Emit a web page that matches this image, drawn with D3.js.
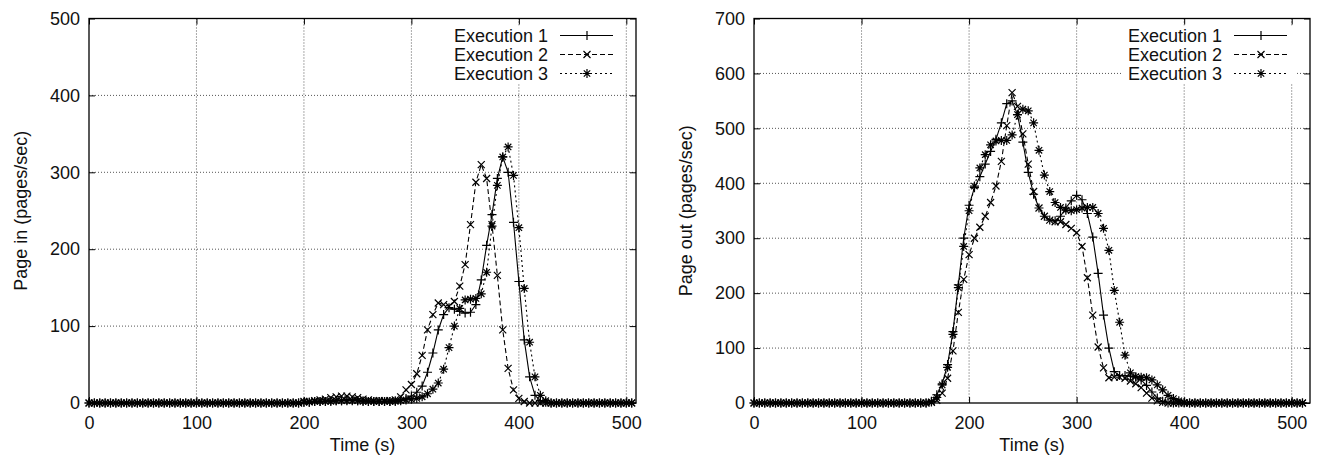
<!DOCTYPE html>
<html>
<head>
<meta charset="utf-8">
<script src="https://cdn.jsdelivr.net/npm/d3@7"></script>
<style>
body { margin: 0; background: white; }
svg { display: block; font-family: "Liberation Sans", Arial, Helvetica, sans-serif; }
</style>
</head>
<body>
<svg width="1320" height="461"></svg>
<script>
let svg = d3.select("svg");

// sample times (s)
let times = [0, 5, 10, 15, 20, 25, 30, 35, 40, 45, 50, 55, 60, 65, 70, 75, 80, 85, 90, 95,
    100, 105, 110, 115, 120, 125, 130, 135, 140, 145, 150, 155, 160, 165, 170, 175, 180, 185, 190, 195,
    200, 205, 210, 215, 220, 225, 230, 235, 240, 245, 250, 255, 260, 265, 270, 275, 280, 285, 290, 295,
    300, 305, 310, 315, 320, 325, 330, 335, 340, 345, 350, 355, 360, 365, 370, 375, 380, 385, 390, 395,
    400, 405, 410, 415, 420, 425, 430, 435, 440, 445, 450, 455, 460, 465, 470, 475, 480, 485, 490, 495,
    500, 505, 510];

let names = ['Execution 1', 'Execution 2', 'Execution 3'];

// page in (pages/sec)
let pageIn1 = [0, 0, 0, 0, 0, 0, 0, 0, 0, 0, 0, 0, 0, 0, 0, 0, 0, 0, 0, 0,
    0, 0, 0, 0, 0, 0, 0, 0, 0, 0, 0, 0, 0, 0, 0, 0, 0, 0, 0, 0,
    1, 1, 2, 2, 2, 3, 3, 3, 4, 4, 3, 3, 2, 2, 2, 2, 2, 3, 4, 6,
    9, 14, 22, 40, 65, 95, 115, 124, 122, 119, 117, 118, 128, 160, 205, 245, 292, 320, 300, 235,
    158, 82, 34, 10, 3, 1, 0, 0, 0, 0, 0, 0, 0, 0, 0, 0, 0, 0, 0, 0,
    0, 0, 0];
let pageIn2 = [0, 0, 0, 0, 0, 0, 0, 0, 0, 0, 0, 0, 0, 0, 0, 0, 0, 0, 0, 0,
    0, 0, 0, 0, 0, 0, 0, 0, 0, 0, 0, 0, 0, 0, 0, 0, 0, 0, 0, 0,
    2, 2, 3, 4, 5, 7, 8, 9, 9, 8, 7, 5, 4, 3, 3, 3, 3, 4, 8, 17,
    24, 38, 62, 95, 115, 130, 128, 126, 132, 152, 180, 232, 287, 310, 292, 232, 166, 95, 45, 17,
    6, 2, 0, 0, 0, 0, 0, 0, 0, 0, 0, 0, 0, 0, 0, 0, 0, 0, 0, 0,
    0, 0, 0];
let pageIn3 = [0, 0, 0, 0, 0, 0, 0, 0, 0, 0, 0, 0, 0, 0, 0, 0, 0, 0, 0, 0,
    0, 0, 0, 0, 0, 0, 0, 0, 0, 0, 0, 0, 0, 0, 0, 0, 0, 0, 0, 0,
    1, 1, 2, 2, 2, 2, 3, 3, 3, 3, 3, 2, 2, 2, 2, 2, 2, 2, 3, 4,
    5, 6, 8, 12, 18, 26, 44, 72, 100, 123, 134, 135, 136, 142, 170, 230, 283, 320, 333, 296,
    228, 149, 79, 34, 10, 3, 0, 0, 0, 0, 0, 0, 0, 0, 0, 0, 0, 0, 0, 0,
    0, 0, 0];

// page out (pages/sec)
let pageOut1 = [0, 0, 0, 0, 0, 0, 0, 0, 0, 0, 0, 0, 0, 0, 0, 0, 0, 0, 0, 0,
    0, 0, 0, 0, 0, 0, 0, 0, 0, 0, 0, 0, 0, 3, 15, 35, 70, 130, 215, 300,
    360, 392, 412, 435, 458, 480, 510, 545, 550, 525, 475, 420, 380, 355, 340, 333, 332, 340, 355, 368,
    378, 370, 345, 302, 236, 160, 100, 57, 50, 50, 49, 47, 42, 32, 20, 9, 3, 0, 0, 0,
    0, 0, 0, 0, 0, 0, 0, 0, 0, 0, 0, 0, 0, 0, 0, 0, 0, 0, 0, 0,
    0, 0, 0];
let pageOut2 = [0, 0, 0, 0, 0, 0, 0, 0, 0, 0, 0, 0, 0, 0, 0, 0, 0, 0, 0, 0,
    0, 0, 0, 0, 0, 0, 0, 0, 0, 0, 0, 0, 0, 1, 5, 18, 45, 95, 165, 225,
    270, 300, 320, 340, 365, 395, 440, 505, 565, 540, 490, 435, 385, 355, 340, 333, 330, 330, 325, 318,
    310, 285, 228, 160, 102, 64, 46, 47, 47, 45, 40, 35, 28, 18, 9, 4, 1, 0, 0, 0,
    0, 0, 0, 0, 0, 0, 0, 0, 0, 0, 0, 0, 0, 0, 0, 0, 0, 0, 0, 0,
    0, 0, 0];
let pageOut3 = [0, 0, 0, 0, 0, 0, 0, 0, 0, 0, 0, 0, 0, 0, 0, 0, 0, 0, 0, 0,
    0, 0, 0, 0, 0, 0, 0, 0, 0, 0, 0, 0, 0, 2, 10, 33, 65, 125, 210, 285,
    350, 395, 428, 452, 470, 477, 478, 478, 488, 525, 535, 532, 510, 460, 415, 385, 365, 356, 351, 350,
    352, 355, 356, 356, 345, 318, 278, 205, 147, 87, 55, 48, 47, 46, 42, 33, 24, 14, 8, 4,
    1, 0, 0, 0, 0, 0, 0, 0, 0, 0, 0, 0, 0, 0, 0, 0, 0, 0, 0, 0,
    0, 0, 0];

let xTicks = [0, 100, 200, 300, 400, 500];
let inTicks = [0, 100, 200, 300, 400, 500];
let outTicks = [0, 100, 200, 300, 400, 500, 600, 700];

// gnuplot-ish point types: plus, cross, star
let markers = [
    'M-4.5,0H4.5M0,-4.5V4.5',
    'M-3.5,-3.5L3.5,3.5M-3.5,3.5L3.5,-3.5',
    'M-4.5,0H4.5M0,-4.5V4.5M-3.2,-3.2L3.2,3.2M-3.2,3.2L3.2,-3.2'
];
let dashes = [null, '5,3', '2,3'];

let plotTop = 18.5, plotBottom = 403;
let fs = 18;

function panel(id, left, right, xMax, yMax, yTicks, label, series) {
    let g = svg.append('g');
    let x = d3.scaleLinear().domain([0, xMax]).range([left, right]);
    let y = d3.scaleLinear().domain([0, yMax]).range([plotBottom, plotTop]);

    // grid
    g.selectAll('.vg').data(xTicks.filter(function(t) {return t > 0})).enter().append('line')
        .attr('x1', function(d) {return x(d)}).attr('x2', function(d) {return x(d)})
        .attr('y1', plotTop).attr('y2', plotBottom)
        .attr('stroke', '#555').attr('stroke-width', 1).attr('stroke-dasharray', '1,2');
    g.selectAll('.hg').data(yTicks.filter(function(t) {return t > 0 && t < yMax})).enter().append('line')
        .attr('x1', left).attr('x2', right)
        .attr('y1', function(d) {return y(d)}).attr('y2', function(d) {return y(d)})
        .attr('stroke', '#555').attr('stroke-width', 1).attr('stroke-dasharray', '1,2');

    // axes, ticks pointing inward like gnuplot
    g.append('g').attr('transform', 'translate(0,' + plotBottom + ')')
        .call(d3.axisBottom(x).tickValues(xTicks).tickSize(-6).tickPadding(13));
    g.append('g').attr('transform', 'translate(' + left + ',0)')
        .call(d3.axisLeft(y).tickValues(yTicks).tickSize(-6).tickPadding(9));
    g.append('g').attr('transform', 'translate(0,' + plotTop + ')')
        .call(d3.axisTop(x).tickValues(xTicks).tickSize(-6).tickFormat(''));
    g.append('g').attr('transform', 'translate(' + right + ',0)')
        .call(d3.axisRight(y).tickValues(yTicks).tickSize(-6).tickFormat(''));
    g.selectAll('.domain').remove();
    g.selectAll('.tick line').attr('stroke', 'black');
    g.selectAll('.tick text').attr('font-size', fs).attr('font-family', null).attr('fill', '#111');

    g.append('clipPath').attr('id', id).append('rect')
        .attr('x', left).attr('y', plotTop - 6).attr('width', right - left).attr('height', plotBottom - plotTop + 12);

    let line = d3.line().x(function(d) {return x(d[0])}).y(function(d) {return y(d[1])});
    series.forEach(function(vals, k) {
        let pts = times.map(function(t, i) {return [t, vals[i]]})
            .filter(function(p) {return p[0] <= xMax});
        g.append('path').datum(pts).attr('d', line)
            .attr('clip-path', 'url(#' + id + ')')
            .attr('fill', 'none').attr('stroke', 'black').attr('stroke-width', 1.1)
            .attr('stroke-dasharray', dashes[k]);
        g.selectAll('.m' + k).data(pts).enter().append('path')
            .attr('transform', function(d) {return 'translate(' + x(d[0]) + ',' + y(d[1]) + ')'})
            .attr('d', markers[k])
            .attr('fill', 'none').attr('stroke', 'black').attr('stroke-width', 1.2);
    });

    // border
    g.append('rect').attr('x', left).attr('y', plotTop).attr('width', right - left).attr('height', plotBottom - plotTop)
        .attr('fill', 'none').attr('stroke', 'black').attr('stroke-width', 1.3);

    // key
    let kx = right - 88;
    g.append('rect').attr('x', kx - 100).attr('y', plotTop + 7).attr('width', 174).attr('height', 58).attr('fill', 'white');
    names.forEach(function(n, k) {
        let ky = plotTop + 17 + k * 19;
        g.append('text').attr('x', kx).attr('y', ky).attr('dy', '0.35em')
            .attr('text-anchor', 'end').attr('font-size', fs).attr('fill', '#111').text(n);
        g.append('line').attr('x1', kx + 12).attr('x2', kx + 65).attr('y1', ky).attr('y2', ky)
            .attr('stroke', 'black').attr('stroke-width', 1).attr('stroke-dasharray', dashes[k]);
        g.append('path').attr('transform', 'translate(' + (kx + 39) + ',' + ky + ')')
            .attr('d', markers[k]).attr('fill', 'none').attr('stroke', 'black').attr('stroke-width', 1.2);
    });

    // axis titles
    g.append('text').attr('x', (left + right) / 2).attr('y', 451)
        .attr('text-anchor', 'middle').attr('font-size', fs).attr('fill', '#111').text('Time (s)');
    g.append('text').attr('transform', 'translate(' + (left - 68) + ',' + ((plotTop + plotBottom) / 2) + ') rotate(-90)')
        .attr('dy', '0.35em').attr('text-anchor', 'middle').attr('font-size', fs).attr('fill', '#111').text(label);
}

panel('clipIn', 89, 636, 509, 500, inTicks, 'Page in (pages/sec)', [pageIn1, pageIn2, pageIn3]);
panel('clipOut', 754, 1310, 517, 700, outTicks, 'Page out (pages/sec)', [pageOut1, pageOut2, pageOut3]);
</script>
</body>
</html>
